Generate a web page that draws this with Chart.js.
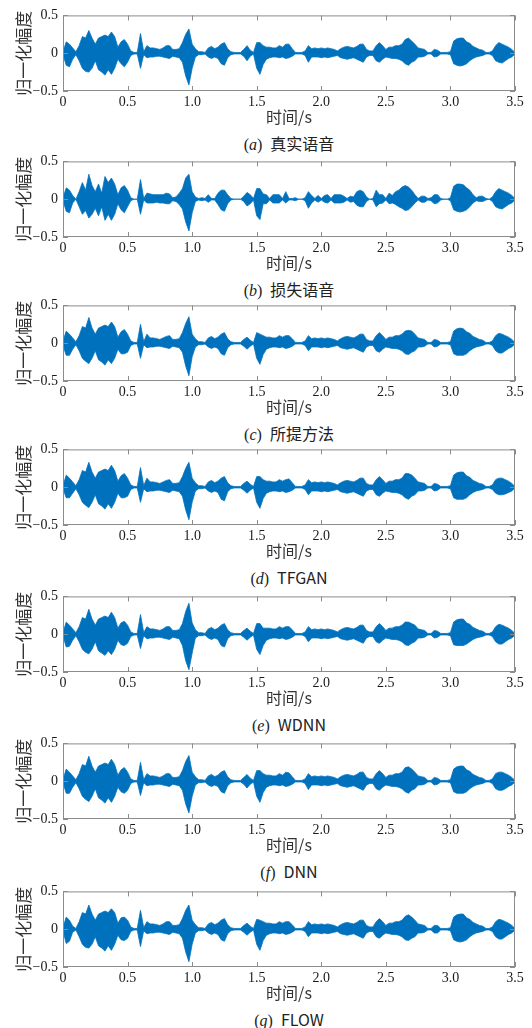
<!DOCTYPE html>
<html>
<head>
<meta charset="UTF-8">
<title>语音波形对比</title>
<script src="https://cdn.jsdelivr.net/npm/chart.js"></script>
<style>
  body { margin: 0; background: #fff; }
  #page { position: relative; width: 532px; height: 1028px; overflow: hidden; }
  canvas { position: absolute; left: 0; }
  .caption {
    position: absolute; left: 0; width: 578px; height: 20px; line-height: 20px;
    text-align: center; font-size: 16px; color: #222;
    font-family: "Liberation Serif", "Noto Sans CJK SC", serif;
  }
  .caption .zh { font-family: "Noto Sans CJK SC", sans-serif; font-size: 16px; }
</style>
</head>
<body>
<div id="page"></div>
<script>
  // 幅度包络（每 0.025 s 一个点，0 ~ 3.5 s），上包络 / 下包络
  const hiA = [
    .02,.15,.12,.07,.02,.10,.22,.20,.30,.20, .12,.20,.22,.24,.22,.28,.22,.08,.15,.18,
    .12,.03,.01,.01,.26,.02,.10,.07,.07,.06, .05,.07,.10,.10,.05,.05,.06,.14,.25,.32,
    .12,.06,.02,.02,.01,.07,.09,.06,.08,.12, .14,.06,.02,.01,.01,.01,.05,.10,.04,.01,
    .14,.14,.10,.08,.08,.07,.07,.10,.08,.12, .12,.06,.01,.01,.01,.03,.10,.06,.07,.06,
    .07,.06,.07,.06,.05,.03,.06,.08,.09,.08, .07,.09,.12,.12,.05,.03,.03,.10,.14,.10,
    .05,.08,.08,.10,.10,.12,.18,.20,.16,.12, .07,.06,.05,.01,.01,.05,.04,.01,.01,.01,
    .02,.16,.19,.20,.20,.15,.13,.09,.07,.05, .04,.01,.01,.03,.10,.14,.12,.10,.08,.05,.01];
  const loA = [
    -.02,-.16,-.18,-.08,-.02,-.10,-.20,-.24,-.25,-.20, -.10,-.22,-.25,-.29,-.22,-.28,-.20,-.08,-.14,-.18,
    -.12,-.03,-.01,-.01,-.20,-.02,-.06,-.05,-.05,-.04, -.04,-.05,-.06,-.07,-.04,-.05,-.06,-.12,-.30,-.42,
    -.20,-.05,-.02,-.02,-.01,-.05,-.07,-.05,-.07,-.14, -.16,-.06,-.02,-.01,-.01,-.01,-.04,-.10,-.04,-.01,
    -.20,-.28,-.15,-.08,-.06,-.05,-.05,-.06,-.05,-.07, -.06,-.04,-.01,-.01,-.01,-.03,-.12,-.05,-.05,-.05,
    -.06,-.05,-.06,-.05,-.04,-.03,-.06,-.07,-.08,-.07, -.06,-.08,-.10,-.12,-.05,-.03,-.03,-.10,-.12,-.08,
    -.05,-.06,-.07,-.07,-.08,-.10,-.14,-.16,-.12,-.10, -.05,-.05,-.04,-.01,-.01,-.05,-.04,-.01,-.01,-.01,
    -.02,-.14,-.16,-.17,-.16,-.14,-.10,-.07,-.05,-.04, -.03,-.01,-.01,-.03,-.10,-.12,-.13,-.10,-.07,-.05,-.01];

  const hiB = [
    .02,.15,.12,.05,0,.10,.22,.12,.33,.18, .10,.20,.08,.30,.22,.28,.20,.06,.15,.18,
    .12,.02,0,0,.26,.01,.08,.07,.06,.06, .06,.06,.08,.07,.02,.03,.08,.14,.28,.33,
    .10,.03,.01,.02,.01,.06,.01,.01,.08,.12, .12,.06,.01,0,0,0,.04,.09,.06,.01,
    .14,.14,.07,.06,.01,.06,.06,.06,.01,.10, .01,.01,.02,0,0,.02,.10,.05,.01,.05,
    .01,.05,.06,.01,.06,.06,.06,.04,.01,.04, .03,.10,.12,.10,.03,0,.01,.12,.06,.06,
    .01,.08,.05,.10,.12,.16,.18,.16,.12,.06, .01,.04,.04,.01,.02,.06,.06,.01,0,0,
    .02,.17,.20,.20,.19,.15,.12,.06,.02,.04, .04,.01,0,.03,.10,.14,.12,.10,.08,.05,.01];
  const loB = [
    -.02,-.16,-.18,-.05,0,-.10,-.20,-.15,-.25,-.20, -.12,-.22,-.10,-.28,-.20,-.28,-.20,-.06,-.14,-.18,
    -.10,-.02,0,0,-.20,-.01,-.05,-.05,-.05,-.04, -.05,-.05,-.06,-.06,-.02,-.03,-.07,-.13,-.30,-.42,
    -.18,-.03,-.01,-.02,-.01,-.04,-.01,-.01,-.07,-.14, -.16,-.06,-.01,0,0,0,-.03,-.09,-.06,-.01,
    -.22,-.27,-.06,-.06,-.01,-.05,-.05,-.05,-.01,-.05, -.01,-.01,-.02,0,0,-.02,-.12,-.05,-.01,-.04,
    -.01,-.04,-.05,-.01,-.05,-.05,-.05,-.04,-.01,-.04, -.03,-.08,-.10,-.10,-.03,0,-.01,-.10,-.06,-.05,
    -.01,-.06,-.05,-.07,-.10,-.12,-.15,-.14,-.10,-.05, -.01,-.04,-.04,-.01,-.02,-.06,-.05,-.01,0,0,
    -.02,-.14,-.16,-.17,-.16,-.14,-.10,-.05,-.02,-.03, -.03,-.01,0,-.03,-.10,-.12,-.13,-.10,-.07,-.05,-.01];

  const hiC = [
    .03,.16,.12,.07,.02,.10,.22,.20,.34,.20, .12,.20,.22,.24,.22,.28,.22,.08,.15,.18,
    .12,.03,.01,.01,.25,.02,.12,.07,.07,.06, .05,.07,.09,.10,.05,.05,.06,.14,.26,.35,
    .12,.06,.02,.02,.01,.07,.09,.06,.08,.12, .14,.06,.02,.01,.01,.01,.05,.08,.04,.01,
    .14,.12,.10,.08,.08,.07,.07,.10,.08,.10, .10,.06,.01,.01,.01,.03,.10,.06,.07,.06,
    .07,.06,.07,.06,.05,.03,.06,.08,.09,.08, .07,.09,.12,.12,.05,.03,.03,.10,.14,.10,
    .05,.08,.08,.10,.10,.12,.16,.17,.16,.12, .07,.06,.05,.01,.01,.05,.04,.01,.01,.01,
    .02,.16,.19,.20,.19,.15,.13,.09,.07,.05, .04,.01,.01,.03,.10,.13,.12,.10,.08,.05,.01];
  const loC = [
    -.03,-.16,-.16,-.08,-.02,-.10,-.20,-.24,-.27,-.20, -.10,-.22,-.25,-.29,-.22,-.27,-.20,-.08,-.14,-.14,
    -.12,-.03,-.01,-.01,-.20,-.02,-.06,-.05,-.05,-.04, -.04,-.05,-.06,-.07,-.04,-.05,-.06,-.12,-.30,-.43,
    -.18,-.05,-.02,-.02,-.01,-.05,-.07,-.05,-.07,-.14, -.16,-.06,-.02,-.01,-.01,-.01,-.04,-.08,-.04,-.01,
    -.20,-.28,-.15,-.08,-.06,-.05,-.05,-.06,-.05,-.07, -.06,-.04,-.01,-.01,-.01,-.03,-.10,-.05,-.05,-.05,
    -.06,-.05,-.06,-.05,-.04,-.03,-.06,-.07,-.08,-.07, -.06,-.08,-.10,-.12,-.05,-.03,-.03,-.10,-.12,-.08,
    -.05,-.06,-.07,-.07,-.08,-.10,-.14,-.15,-.12,-.10, -.05,-.05,-.04,-.01,-.01,-.05,-.04,-.01,-.01,-.01,
    -.02,-.14,-.16,-.16,-.16,-.14,-.10,-.07,-.05,-.04, -.03,-.01,-.01,-.03,-.10,-.13,-.13,-.10,-.07,-.05,-.01];

  const hiD = [
    .02,.16,.12,.07,.02,.10,.22,.20,.33,.20, .12,.20,.22,.24,.22,.29,.22,.08,.15,.18,
    .12,.03,.01,.01,.26,.02,.12,.07,.07,.06, .05,.07,.09,.10,.05,.05,.06,.14,.25,.33,
    .12,.06,.02,.02,.01,.07,.09,.06,.08,.12, .14,.06,.02,.01,.01,.01,.05,.08,.04,.01,
    .14,.14,.10,.08,.08,.07,.07,.10,.08,.10, .11,.06,.01,.01,.01,.03,.10,.06,.07,.06,
    .07,.06,.07,.06,.05,.03,.06,.08,.09,.08, .07,.09,.12,.12,.05,.03,.03,.10,.14,.10,
    .05,.08,.08,.10,.10,.12,.18,.18,.16,.12, .07,.06,.05,.01,.01,.05,.04,.01,.01,.01,
    .02,.16,.19,.20,.20,.15,.13,.09,.07,.05, .04,.01,.01,.03,.10,.12,.12,.10,.08,.05,.01];
  const loD = [
    -.02,-.14,-.14,-.08,-.02,-.10,-.20,-.24,-.27,-.20, -.10,-.22,-.25,-.29,-.22,-.28,-.20,-.08,-.14,-.14,
    -.12,-.03,-.01,-.01,-.20,-.02,-.06,-.05,-.05,-.04, -.04,-.05,-.06,-.07,-.04,-.05,-.06,-.12,-.30,-.43,
    -.20,-.05,-.02,-.02,-.01,-.05,-.07,-.05,-.07,-.16, -.18,-.06,-.02,-.01,-.01,-.01,-.04,-.08,-.04,-.01,
    -.20,-.28,-.15,-.08,-.06,-.05,-.05,-.06,-.05,-.07, -.06,-.04,-.01,-.01,-.01,-.03,-.10,-.05,-.05,-.05,
    -.06,-.05,-.06,-.05,-.04,-.03,-.06,-.07,-.08,-.07, -.06,-.08,-.10,-.12,-.05,-.03,-.03,-.10,-.12,-.08,
    -.05,-.06,-.07,-.07,-.08,-.10,-.14,-.16,-.12,-.10, -.05,-.05,-.04,-.01,-.01,-.05,-.04,-.01,-.01,-.01,
    -.02,-.14,-.16,-.16,-.16,-.14,-.10,-.07,-.05,-.04, -.03,-.01,-.01,-.03,-.08,-.10,-.10,-.09,-.07,-.05,-.01];

  const hiE = [
    .02,.16,.12,.07,.02,.10,.22,.20,.33,.20, .12,.20,.22,.24,.22,.29,.22,.08,.15,.17,
    .12,.03,.01,.01,.26,.02,.10,.07,.07,.06, .05,.07,.10,.10,.05,.05,.06,.14,.30,.41,
    .15,.06,.02,.02,.01,.07,.09,.06,.08,.12, .14,.06,.02,.01,.01,.01,.05,.08,.04,.01,
    .14,.14,.08,.08,.08,.07,.07,.10,.08,.10, .10,.06,.01,.01,.01,.03,.10,.06,.07,.06,
    .07,.06,.07,.06,.05,.03,.06,.08,.09,.08, .07,.09,.12,.12,.05,.03,.03,.10,.14,.10,
    .05,.08,.08,.10,.10,.12,.16,.16,.14,.12, .07,.06,.05,.01,.01,.05,.04,.01,.01,.01,
    .02,.16,.19,.20,.20,.15,.13,.09,.07,.05, .04,.01,.01,.03,.10,.13,.12,.10,.08,.05,.01];
  const loE = [
    -.02,-.17,-.16,-.08,-.02,-.10,-.20,-.24,-.26,-.20, -.10,-.22,-.25,-.28,-.22,-.27,-.20,-.08,-.14,-.15,
    -.12,-.03,-.01,-.01,-.19,-.02,-.06,-.05,-.05,-.04, -.04,-.05,-.06,-.07,-.04,-.05,-.06,-.15,-.35,-.47,
    -.25,-.05,-.02,-.02,-.01,-.05,-.07,-.05,-.07,-.15, -.17,-.06,-.02,-.01,-.01,-.01,-.04,-.08,-.04,-.01,
    -.20,-.27,-.15,-.08,-.06,-.05,-.05,-.06,-.05,-.07, -.06,-.04,-.01,-.01,-.01,-.03,-.10,-.05,-.05,-.05,
    -.06,-.05,-.06,-.05,-.04,-.03,-.06,-.07,-.08,-.07, -.06,-.08,-.10,-.12,-.05,-.03,-.03,-.10,-.12,-.08,
    -.05,-.06,-.07,-.07,-.08,-.10,-.14,-.15,-.12,-.10, -.05,-.05,-.04,-.01,-.01,-.05,-.04,-.01,-.01,-.01,
    -.02,-.14,-.15,-.15,-.15,-.13,-.10,-.07,-.05,-.04, -.03,-.01,-.01,-.03,-.10,-.13,-.13,-.10,-.07,-.05,-.01];

  const hiF = [
    .02,.16,.12,.07,.02,.10,.22,.20,.33,.20, .12,.20,.22,.24,.22,.29,.22,.08,.15,.18,
    .12,.03,.01,.01,.25,.02,.10,.07,.07,.06, .05,.07,.10,.10,.05,.05,.06,.14,.26,.34,
    .12,.06,.02,.02,.01,.07,.09,.06,.08,.12, .14,.06,.02,.01,.01,.01,.05,.09,.04,.01,
    .14,.14,.10,.08,.08,.07,.07,.10,.08,.12, .11,.06,.01,.01,.01,.03,.10,.06,.07,.06,
    .07,.06,.07,.06,.05,.03,.06,.08,.09,.08, .07,.09,.12,.12,.05,.03,.03,.10,.14,.10,
    .05,.08,.08,.10,.10,.12,.18,.19,.16,.12, .07,.06,.05,.01,.01,.05,.04,.01,.01,.01,
    .02,.16,.19,.20,.20,.15,.13,.09,.07,.05, .04,.01,.01,.03,.10,.12,.12,.10,.08,.05,.01];
  const loF = [
    -.02,-.16,-.16,-.08,-.02,-.10,-.20,-.24,-.27,-.20, -.10,-.22,-.25,-.29,-.22,-.28,-.20,-.08,-.14,-.16,
    -.12,-.03,-.01,-.01,-.19,-.02,-.06,-.05,-.05,-.04, -.04,-.05,-.06,-.07,-.04,-.05,-.06,-.12,-.30,-.42,
    -.20,-.05,-.02,-.02,-.01,-.05,-.07,-.05,-.07,-.14, -.16,-.06,-.02,-.01,-.01,-.01,-.04,-.09,-.04,-.01,
    -.20,-.28,-.15,-.08,-.06,-.05,-.05,-.06,-.05,-.07, -.06,-.04,-.01,-.01,-.01,-.03,-.11,-.05,-.05,-.05,
    -.06,-.05,-.06,-.05,-.04,-.03,-.06,-.07,-.08,-.07, -.06,-.08,-.10,-.12,-.05,-.03,-.03,-.10,-.12,-.08,
    -.05,-.06,-.07,-.07,-.08,-.10,-.14,-.16,-.12,-.10, -.05,-.05,-.04,-.01,-.01,-.05,-.04,-.01,-.01,-.01,
    -.02,-.14,-.16,-.16,-.16,-.14,-.10,-.07,-.05,-.04, -.03,-.01,-.01,-.03,-.10,-.12,-.12,-.10,-.07,-.05,-.01];

  const hiG = [
    .02,.16,.12,.04,.01,.10,.22,.20,.32,.20, .12,.20,.22,.24,.22,.27,.22,.08,.15,.16,
    .12,.03,.01,.01,.25,.02,.10,.07,.07,.06, .05,.07,.10,.10,.05,.05,.06,.14,.25,.32,
    .12,.06,.02,.02,.01,.07,.09,.06,.08,.12, .14,.06,.02,.01,.01,.01,.05,.08,.04,.01,
    .13,.12,.10,.08,.08,.07,.07,.10,.08,.10, .10,.06,.01,.01,.01,.03,.10,.06,.07,.06,
    .07,.06,.07,.06,.05,.03,.06,.08,.09,.08, .07,.09,.12,.12,.05,.03,.03,.10,.14,.10,
    .05,.08,.08,.10,.10,.12,.17,.19,.16,.12, .07,.06,.05,.01,.01,.05,.05,.01,.01,.01,
    .02,.16,.19,.20,.20,.15,.13,.09,.07,.05, .04,.01,.01,.03,.10,.13,.12,.10,.08,.05,.01];
  const loG = [
    -.02,-.19,-.16,-.04,-.01,-.10,-.20,-.24,-.25,-.20, -.10,-.22,-.25,-.29,-.22,-.28,-.20,-.08,-.14,-.15,
    -.12,-.03,-.01,-.01,-.23,-.02,-.06,-.05,-.05,-.04, -.04,-.05,-.06,-.07,-.04,-.05,-.06,-.12,-.30,-.43,
    -.20,-.05,-.02,-.02,-.01,-.05,-.07,-.05,-.07,-.14, -.16,-.06,-.02,-.01,-.01,-.01,-.04,-.08,-.04,-.01,
    -.20,-.28,-.15,-.08,-.06,-.05,-.05,-.06,-.05,-.07, -.06,-.04,-.01,-.01,-.01,-.03,-.10,-.05,-.05,-.05,
    -.06,-.05,-.06,-.05,-.04,-.03,-.06,-.07,-.08,-.07, -.06,-.08,-.10,-.12,-.05,-.03,-.03,-.10,-.12,-.08,
    -.05,-.06,-.07,-.07,-.08,-.10,-.14,-.15,-.12,-.10, -.05,-.05,-.04,-.01,-.01,-.05,-.05,-.01,-.01,-.01,
    -.02,-.14,-.16,-.17,-.16,-.14,-.10,-.07,-.05,-.04, -.03,-.01,-.01,-.03,-.10,-.13,-.13,-.10,-.07,-.05,-.01];

  // 采样时间轴 (s)
  const STEP = 0.025;
  const times = hiA.map((_, i) => +(i * STEP).toFixed(3));

  const tags = ['a', 'b', 'c', 'd', 'e', 'f', 'g'];
  const names = ['真实语音', '损失语音', '所提方法', 'TFGAN', 'WDNN', 'DNN', 'FLOW'];
  const highs = [hiA, hiB, hiC, hiD, hiE, hiF, hiG];
  const lows = [loA, loB, loC, loD, loE, loF, loG];

  // 版面：每个子图绘图区的上边缘 (px)
  const plotTops = [14, 160, 304, 448, 595, 742, 890];
  const PAD_TOP = 12;
  const BLUE = 'rgb(0,114,189)';
  const TICK_FONT = { family: 'Liberation Serif', size: 14 };
  const ZH_FONT = { family: 'Noto Sans CJK SC', size: 16 };

  // MATLAB 风格的灰色边框和向内刻度
  const frame = {
    id: 'frame',
    afterDraw(chart) {
      const { ctx, chartArea: a, scales: { x, y } } = chart;
      ctx.save();
      ctx.strokeStyle = '#8c8c8c';
      ctx.lineWidth = 1;
      ctx.strokeRect(a.left + 0.5, a.top + 0.5, a.width - 1, a.height - 1);
      ctx.beginPath();
      x.ticks.forEach(t => {
        const px = Math.round(x.getPixelForValue(t.value)) + 0.5;
        ctx.moveTo(px, a.bottom); ctx.lineTo(px, a.bottom - 5);
        ctx.moveTo(px, a.top); ctx.lineTo(px, a.top + 5);
      });
      y.ticks.forEach(t => {
        const py = Math.round(y.getPixelForValue(t.value)) + 0.5;
        ctx.moveTo(a.left, py); ctx.lineTo(a.left + 5, py);
        ctx.moveTo(a.right, py); ctx.lineTo(a.right - 5, py);
      });
      ctx.stroke();
      ctx.restore();
    }
  };

  function makeChart(canvas, hi, lo) {
    const toPts = arr => arr.map((v, i) => ({ x: times[i], y: v }));
    return new Chart(canvas, {
      type: 'line',
      data: {
        datasets: [
          { data: toPts(hi), fill: '+1', backgroundColor: BLUE, borderColor: BLUE,
            borderWidth: 0.8, pointRadius: 0, tension: 0 },
          { data: toPts(lo), fill: false, borderColor: BLUE,
            borderWidth: 0.8, pointRadius: 0, tension: 0 }
        ]
      },
      options: {
        responsive: false,
        animation: false,
        events: [],
        layout: { padding: { top: PAD_TOP, right: 17, left: 0, bottom: 0 } },
        plugins: { legend: { display: false }, tooltip: { enabled: false } },
        scales: {
          x: {
            type: 'linear', min: 0, max: 3.5,
            grid: { display: false, drawTicks: false },
            border: { display: false },
            ticks: {
              stepSize: 0.5, padding: 3, maxRotation: 0, autoSkip: false,
              color: '#1a1a1a', font: TICK_FONT,
              callback: v => v === 0 ? '0' : v.toFixed(1)
            },
            title: { display: true, text: '时间/s', color: '#333', font: ZH_FONT,
                     padding: { top: 0, bottom: 4 } },
            afterFit: s => { s.height = 40; }
          },
          y: {
            min: -0.5, max: 0.5,
            grid: { display: false, drawTicks: false },
            border: { display: false },
            ticks: {
              stepSize: 0.5, padding: 5, color: '#1a1a1a', font: TICK_FONT,
              callback: v => v === 0 ? '0' : (v < 0 ? '\u2212' : '') + Math.abs(v).toFixed(1)
            },
            title: { display: true, text: '归一化幅度', color: '#333',
                     font: { family: 'Noto Sans CJK SC', size: 17 },
                     padding: { top: 13, bottom: 0 } },
            afterFit: s => { s.width = 63; }
          }
        }
      },
      plugins: [frame]
    });
  }

  const page = document.getElementById('page');
  plotTops.forEach((top, k) => {
    const canvas = document.createElement('canvas');
    canvas.width = 532;
    canvas.height = 129;
    canvas.style.top = (top - PAD_TOP) + 'px';
    page.appendChild(canvas);
    makeChart(canvas, highs[k], lows[k]);

    const cap = document.createElement('div');
    cap.className = 'caption';
    cap.style.top = (top + 119) + 'px';
    cap.innerHTML = '(<i>' + tags[k] + '</i>)&nbsp;&nbsp;<span class="zh">' + names[k] + '</span>';
    page.appendChild(cap);
  });
</script>
</body>
</html>
